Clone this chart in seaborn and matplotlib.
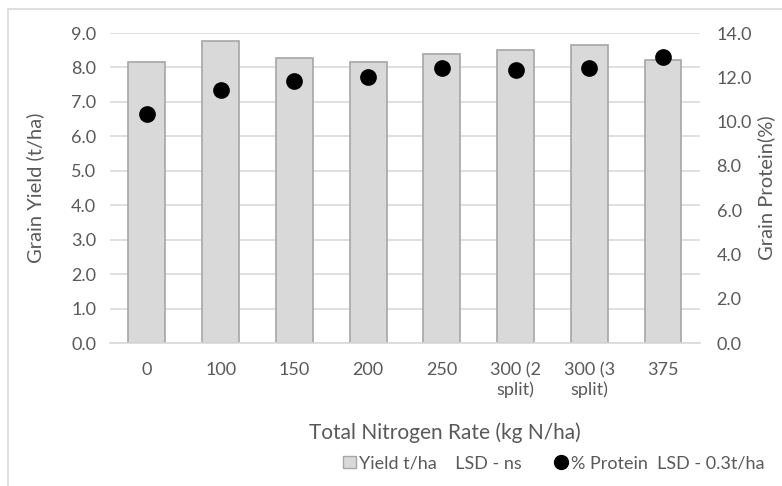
import numpy as np
import pandas as pd
import matplotlib
matplotlib.use("Agg")
import matplotlib.pyplot as plt
import seaborn as sns
from matplotlib.lines import Line2D
from matplotlib.patches import Patch, Rectangle

rates = ["0", "100", "150", "200", "250", "300 (2\nsplit)", "300 (3\nsplit)", "375"]
yield_t_ha = [8.17, 8.77, 8.28, 8.17, 8.39, 8.51, 8.64, 8.22]
protein_pct = [10.35, 11.43, 11.82, 12.03, 12.41, 12.32, 12.42, 12.93]

df = pd.DataFrame({"rate": rates, "yield": yield_t_ha, "protein": protein_pct})

sns.set_theme(style="white")
plt.rcParams["font.family"] = ["Lato", "DejaVu Sans"]
grey_txt = "#595959"
grid_c = "#d9d9d9"
tick_fs = 13
label_fs = 14.5

fig = plt.figure(figsize=(7.82, 4.86), dpi=100)
ax = fig.add_axes([0.1407, 0.2942, 0.7543, 0.6378])

sns.barplot(data=df, x="rate", y="yield", color="#d9d9d9", width=0.5,
            edgecolor="#a6a6a6", linewidth=1.2, saturation=1, ax=ax, zorder=2)
ax.set_ylim(0, 9)
ax.set_yticks(np.arange(0, 9.1, 1.0))
ax.set_yticklabels([f"{v:.1f}" for v in np.arange(0, 9.1, 1.0)])
ax.set_xlim(-0.5, len(rates) - 0.5)
ax.yaxis.grid(True, color=grid_c, linewidth=1.2, zorder=0)
ax.set_axisbelow(True)
for s in ["left", "right", "top"]:
    ax.spines[s].set_visible(False)
ax.spines["bottom"].set_color(grid_c)
ax.spines["bottom"].set_linewidth(1.2)
ax.tick_params(axis="both", length=0, labelsize=tick_fs, colors=grey_txt, pad=10)
ax.tick_params(axis="x", pad=14)
ax.set_ylabel("Grain Yield (t/ha)", fontsize=label_fs, color=grey_txt, va="center")
ax.set_xlabel("Total Nitrogen Rate (kg N/ha)", fontsize=15, color=grey_txt, va="center")
ax.yaxis.set_label_coords(-0.127, 0.5)
ax.xaxis.set_label_coords(0.568, -0.29)

ax2 = ax.twinx()
sns.pointplot(data=df, x="rate", y="protein", color="black", linestyle="none",
              marker="o", markersize=10, ax=ax2, zorder=3)
ax2.set_ylim(0, 14)
ax2.set_yticks(np.arange(0, 14.1, 2.0))
ax2.set_yticklabels([f"{v:.1f}" for v in np.arange(0, 14.1, 2.0)])
ax2.set_xlim(-0.5, len(rates) - 0.5)
for s in ["left", "right", "top", "bottom"]:
    ax2.spines[s].set_visible(False)
ax2.tick_params(axis="y", length=0, labelsize=tick_fs, colors=grey_txt, pad=12)
ax2.set_ylabel("Grain Protein(%)", fontsize=label_fs, color=grey_txt, va="center")
ax2.yaxis.set_label_coords(1.112, 0.5)
ax2.grid(False)

handles = [
    Patch(facecolor="#d9d9d9", edgecolor="#a6a6a6", linewidth=1),
    Line2D([], [], marker="o", color="black", linestyle="none", markersize=10),
]
labels = ["Yield t/ha    LSD - ns", "% Protein  LSD - 0.3t/ha"]
leg = fig.legend(handles, labels, ncol=2, frameon=False, loc="center",
                 bbox_to_anchor=(0.708, 0.047), fontsize=13,
                 handlelength=0.7, handletextpad=0.2, columnspacing=1.8)
for t in leg.get_texts():
    t.set_color(grey_txt)

fig.patches.append(Rectangle((8 / 782, -0.05), 1.2, 1 - 9 / 486 + 0.05,
                             transform=fig.transFigure, fill=False,
                             edgecolor="#d9d9d9", linewidth=1.2))

fig.savefig("out.png", dpi=100)
